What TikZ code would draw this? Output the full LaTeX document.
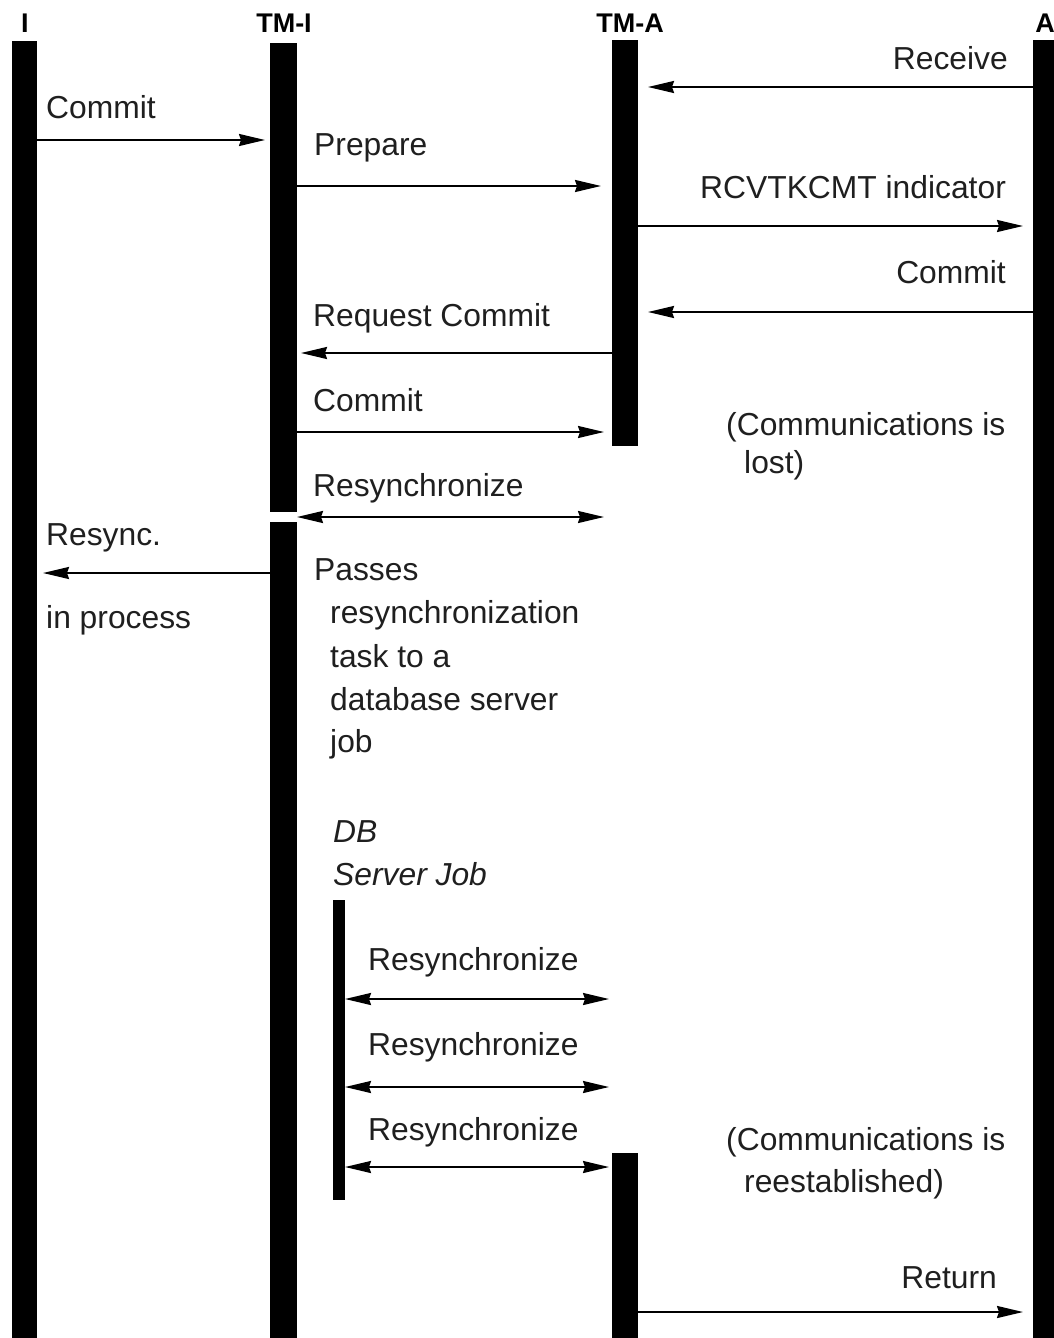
\documentclass[tikz,border=0pt]{standalone}
\usepackage{fontspec}
\setmainfont{Liberation Sans}
\usetikzlibrary{arrows.meta}
\begin{document}
\begin{tikzpicture}[x=1pt,y=-1pt,
  bar/.style={fill=black,draw=none},
  tip/.tip={Stealth[length=26pt,width=12pt,inset=2pt]},
  msg/.style={line width=2pt,-tip},
  bidi/.style={line width=2pt,tip-tip},
  lbl/.style={inner sep=0pt,anchor=base west,text=black!88,font=\fontsize{31.8}{38}\selectfont},
  rlbl/.style={inner sep=0pt,anchor=base east,text=black!88,font=\fontsize{31.8}{38}\selectfont},
  ttl/.style={inner sep=0pt,anchor=base,font=\fontsize{27}{32}\selectfont\bfseries}]
\useasboundingbox (0,0) rectangle (1054,1338);
% titles
\node[ttl] (tI) at (25,33) {I};
\node[ttl] (tTMI) at (284,33) {TM-I};
\node[ttl] (tTMA) at (630,33) {TM-A};
\node[ttl] (tA) at (1045,33) {A};
% bars
\fill[bar] (12,41) rectangle (37,1338);
\fill[bar] (270,43) rectangle (297,512);
\fill[bar] (270,522) rectangle (297,1338);
\fill[bar] (612,40) rectangle (638,446);
\fill[bar] (612,1153) rectangle (638,1338);
\fill[bar] (1033,40) rectangle (1060,1338);
\fill[bar] (333,900) rectangle (345,1200);
% coordinates
\coordinate (c1a) at (37,140);   \coordinate (c1b) at (265,140);
\coordinate (c2a) at (1033,87);  \coordinate (c2b) at (648,87);
\coordinate (c3a) at (297,186);  \coordinate (c3b) at (601,186);
\coordinate (c4a) at (638,226);  \coordinate (c4b) at (1023,226);
\coordinate (c5a) at (1033,312); \coordinate (c5b) at (648,312);
\coordinate (c6a) at (612,353);  \coordinate (c6b) at (301,353);
\coordinate (c7a) at (297,432);  \coordinate (c7b) at (604,432);
\coordinate (c8a) at (297,517);  \coordinate (c8b) at (604,517);
\coordinate (c9a) at (270,573);  \coordinate (c9b) at (43,573);
\coordinate (d1a) at (345,999);  \coordinate (d1b) at (609,999);
\coordinate (d2a) at (345,1087); \coordinate (d2b) at (609,1087);
\coordinate (d3a) at (345,1167); \coordinate (d3b) at (609,1167);
\coordinate (ra) at (638,1312);  \coordinate (rb) at (1023,1312);
% arrows
\draw[msg] (c1a) -- (c1b);
\draw[msg] (c2a) -- (c2b);
\draw[msg] (c3a) -- (c3b);
\draw[msg] (c4a) -- (c4b);
\draw[msg] (c5a) -- (c5b);
\draw[msg] (c6a) -- (c6b);
\draw[msg] (c7a) -- (c7b);
\draw[bidi] (c8a) -- (c8b);
\draw[msg] (c9a) -- (c9b);
\draw[bidi] (d1a) -- (d1b);
\draw[bidi] (d2a) -- (d2b);
\draw[bidi] (d3a) -- (d3b);
\draw[msg] (ra) -- (rb);
% labels
\node[lbl] (l1) at (46,118) {Commit};
\node[rlbl] (l2) at (1008,70) {Receive};
\node[lbl] (l3) at (314,155) {Prepare};
\node[lbl] (l4) at (700,198) {RCVTKCMT indicator};
\node[rlbl] (l5) at (1006,283) {Commit};
\node[lbl] (l6) at (313,326) {Request Commit};
\node[lbl] (l7) at (313,411) {Commit};
\node[lbl] (l8) at (313,496) {Resynchronize};
\node[lbl] (l9) at (46,545) {Resync.};
\node[lbl] (l10) at (46,628) {in process};
\node[lbl] (p1) at (314,580) {Passes};
\node[lbl] (p2) at (330,623) {resynchronization};
\node[lbl] (p3) at (330,667) {task to a};
\node[lbl] (p4) at (330,710) {database server};
\node[lbl] (p5) at (330,752) {job};
\node[lbl,font=\fontsize{31.8}{38}\selectfont\itshape] (db1) at (333,842) {DB};
\node[lbl,font=\fontsize{31.8}{38}\selectfont\itshape] (db2) at (333,885) {Server Job};
\node[lbl] (r1) at (368,970) {Resynchronize};
\node[lbl] (r2) at (368,1055) {Resynchronize};
\node[lbl] (r3) at (368,1140) {Resynchronize};
\node[lbl] (cl1) at (726,435) {(Communications is};
\node[lbl] (cl2) at (744,473) {lost)};
\node[lbl] (ce1) at (726,1150) {(Communications is};
\node[lbl] (ce2) at (744,1192) {reestablished)};
\node[rlbl] (ret) at (997,1288) {Return};
\end{tikzpicture}
\end{document}
